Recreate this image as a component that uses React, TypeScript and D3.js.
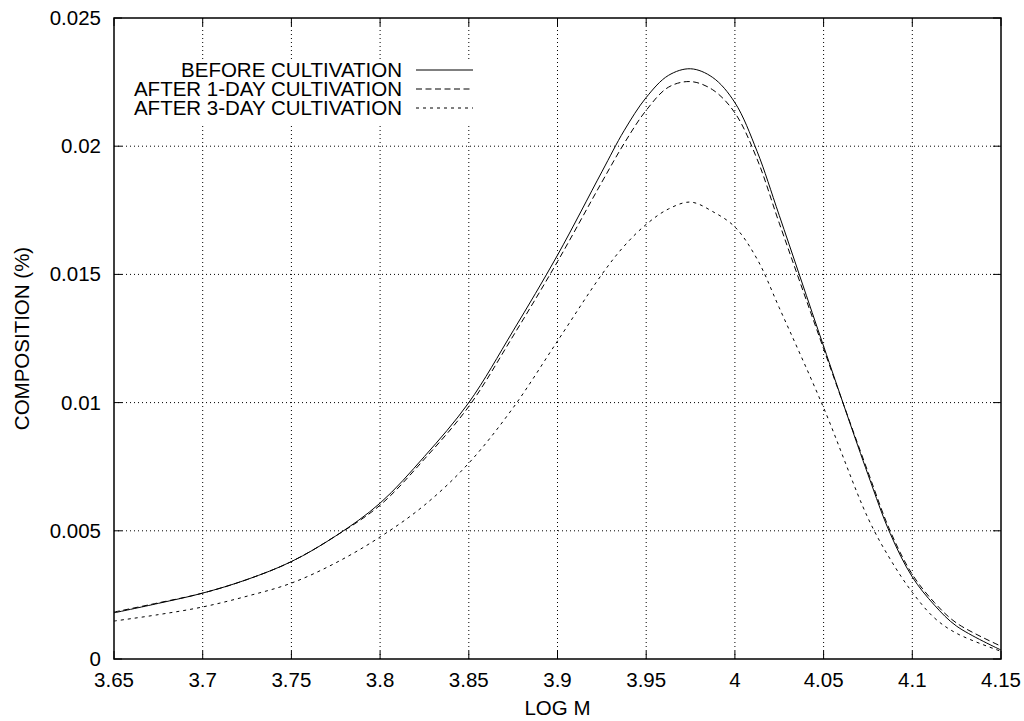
import React from "react";
import * as d3 from "d3";

const logM = [3.65, 3.675, 3.7, 3.725, 3.75, 3.775, 3.8, 3.825, 3.85, 3.875, 3.9, 3.925, 3.9375, 3.95, 3.9625, 3.975, 3.9875, 4.0, 4.0125, 4.025, 4.05, 4.075, 4.0875, 4.1, 4.1125, 4.125, 4.15];
const before = [0.0018, 0.00217, 0.00257, 0.0031, 0.0038, 0.0048, 0.00608, 0.0079, 0.01, 0.0128, 0.01575, 0.019, 0.0206, 0.0219, 0.02276, 0.02302, 0.02268, 0.0217, 0.0198, 0.0173, 0.0122, 0.0072, 0.0049, 0.0032, 0.0021, 0.00128, 0.00035];
const after1 = [0.00183, 0.00219, 0.00257, 0.0031, 0.0038, 0.0048, 0.006, 0.0078, 0.00985, 0.0126, 0.0155, 0.0186, 0.0201, 0.0214, 0.0223, 0.02252, 0.0222, 0.0213, 0.0195, 0.017, 0.0121, 0.0073, 0.005, 0.0033, 0.0022, 0.0014, 0.0005];
const after3 = [0.00148, 0.00173, 0.00203, 0.00245, 0.00296, 0.00375, 0.00476, 0.006, 0.00764, 0.0098, 0.0124, 0.015, 0.0161, 0.01695, 0.01755, 0.01782, 0.01745, 0.01685, 0.0156, 0.0137, 0.0098, 0.0055, 0.0039, 0.0026, 0.0016, 0.001, 0.0003];

const xTicks = [3.65, 3.7, 3.75, 3.8, 3.85, 3.9, 3.95, 4.0, 4.05, 4.1, 4.15];
const yTicks = [0, 0.005, 0.01, 0.015, 0.02, 0.025];
const seriesNames = ["BEFORE CULTIVATION", "AFTER 1-DAY CULTIVATION", "AFTER 3-DAY CULTIVATION"];

const W = 1024, H = 721;
const L = 114, R = 1001, T = 18, B = 659;
const FONT = "'Liberation Sans', Arial, Helvetica, sans-serif";
const FS = 20.5;

export default function App() {
  const x = d3.scaleLinear().domain([3.65, 4.15]).range([L, R]);
  const y = d3.scaleLinear().domain([0, 0.025]).range([B, T]);
  const series = [before, after1, after3];
  const dashes = ["none", "6,3.5", "3,4"];
  const line = (vals: number[]) =>
    d3.line<number>().x((_, i) => x(logM[i])).y((v) => y(v)).curve(d3.curveCatmullRom.alpha(0.5))(vals) || "";

  return (
    <svg width={W} height={H} style={{ position: "absolute", left: 0, top: 0, background: "#fff" }} fontFamily={FONT}>
      <rect x={0} y={0} width={W} height={H} fill="#fff" />
      {/* grid */}
      {xTicks.slice(1, -1).map((t) => (
        <line key={"gx" + t} x1={x(t)} x2={x(t)} y1={B} y2={T} stroke="#000" strokeWidth={1} strokeDasharray="1,3" />
      ))}
      {yTicks.slice(1, -1).map((t) => (
        <line key={"gy" + t} x1={L} x2={R} y1={y(t)} y2={y(t)} stroke="#000" strokeWidth={1} strokeDasharray="1,3" />
      ))}
      {/* legend background */}
      <rect x={128} y={61} width={355} height={62} fill="#fff" />
      {/* ticks */}
      {xTicks.map((t) => (
        <g key={"tx" + t}>
          <line x1={x(t)} x2={x(t)} y1={B} y2={B - 8} stroke="#000" />
          <line x1={x(t)} x2={x(t)} y1={T} y2={T + 8} stroke="#000" />
          <text x={x(t)} y={B + 28} fontSize={FS} textAnchor="middle">{d3.format("")(t)}</text>
        </g>
      ))}
      {yTicks.map((t) => (
        <g key={"ty" + t}>
          <line x1={L} x2={L + 8} y1={y(t)} y2={y(t)} stroke="#000" />
          <line x1={R} x2={R - 8} y1={y(t)} y2={y(t)} stroke="#000" />
          <text x={L - 13} y={y(t) + 7} fontSize={FS} textAnchor="end">{d3.format("")(t)}</text>
        </g>
      ))}
      {/* curves */}
      {series.map((s, i) => (
        <path key={"s" + i} d={line(s)} fill="none" stroke="#000" strokeWidth={1} strokeDasharray={dashes[i]} />
      ))}
      {/* frame */}
      <rect x={L} y={T} width={R - L} height={B - T} fill="none" stroke="#000" strokeWidth={1.5} />
      {/* legend */}
      {seriesNames.map((n, i) => (
        <g key={"lg" + i}>
          <text x={402} y={77 + i * 19} fontSize={FS} textAnchor="end">{n}</text>
          <line x1={416} x2={473} y1={70 + i * 19} y2={70 + i * 19} stroke="#000" strokeDasharray={dashes[i]} />
        </g>
      ))}
      {/* axis titles */}
      <text x={(L + R) / 2} y={715} fontSize={FS} textAnchor="middle">LOG M</text>
      <text transform={`translate(29, ${(T + B) / 2}) rotate(-90)`} fontSize={FS} textAnchor="middle">COMPOSITION (%)</text>
    </svg>
  );
}
